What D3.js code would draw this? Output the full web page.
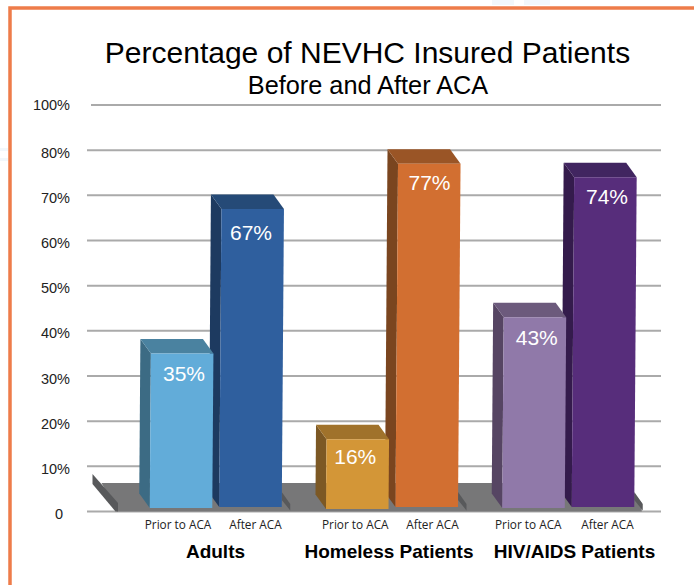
<!DOCTYPE html>
<html>
<head>
<meta charset="utf-8">
<script src="https://cdn.jsdelivr.net/npm/d3@7"></script>
<style>
  html, body { margin: 0; padding: 0; background: #fff; }
  svg { display: block; }
</style>
</head>
<body>
<div id="chart"></div>
<script>
// Data
const groups = ["Adults", "Homeless Patients", "HIV/AIDS Patients"]
const periods = ["Prior to ACA", "After ACA"]
const adults = [35, 67]
const homeless = [16, 77]
const hivAids = [43, 74]
const seriesValues = [adults, homeless, hivAids]

// the axis skips 90%, the top line is labelled 100%
const gridSteps = [0, 10, 20, 30, 40, 50, 60, 70, 80, 90]
const tickLabels = ["0", "10%", "20%", "30%", "40%", "50%", "60%", "70%", "80%", "100%"]

// Colours
const frontColors = [["#62acd9", "#2f5f9e"], ["#d39637", "#d26f31"], ["#9079a9", "#572d7b"]]
const sideColors = [["#3c6b84", "#1d3a60"], ["#7c5824", "#7a451f"], ["#564563", "#341b4c"]]
const topColors = [["#4a82a0", "#254a77"], ["#a0722b", "#9a5526"], ["#6c5a7c", "#412560"]]

const width = 694
const height = 585

const svg = d3.select("#chart")
  .append("svg")
  .attr("width", width)
  .attr("height", height)

// Scales
const y = d3.scaleLinear().domain([0, 90]).range([511.5, 105])
const xGroup = d3.scalePoint().domain(groups).range([215.75, 568.25])
const xPeriod = d3.scaleBand().domain(periods).range([-66, 66]).paddingInner(0.1)
const bw = xPeriod.bandwidth()

// Hand placed tweaks, the original is a pasted picture and nothing lines up exactly
const depth = { x: 10.5, y: 14.5 }
const lean = 0.0074
const baseGap = [[3.5, 4.5], [2.5, 4.5], [3.5, 4.5]]
const valueDx = [[3, 0.5], [-2, 2.75], [3.25, 4]]
const valueDy = [[28, 31.5], [25, 26.5], [27.5, 26.5]]
const periodDx = [[-3, 5], [-2, 5.75], [-5.25, 4.5]]
const groupLabelX = [215.5, 389, 574.5]

// Traces of a watermark behind the frame
const smudges = svg.append("g").attr("fill", "#f2f7fb")
smudges.append("rect").attr("x", 0).attr("y", 148).attr("width", 8).attr("height", 3)
smudges.append("rect").attr("x", 0).attr("y", 158).attr("width", 8).attr("height", 3)
smudges.append("rect").attr("x", 492).attr("y", 0).attr("width", 22).attr("height", 5)
smudges.append("rect").attr("x", 524).attr("y", 0).attr("width", 26).attr("height", 5)

// Frame
svg.append("path")
  .attr("d", `M10 ${height} V8 H${width}`)
  .attr("fill", "none")
  .attr("stroke", "#ee7c4a")
  .attr("stroke-width", 3.5)

// Axis
const yAxis = d3.axisLeft(y)
  .tickValues(gridSteps)
  .tickFormat((d, i) => tickLabels[i])
  .tickSize(0)

const axisG = svg.append("g")
  .attr("transform", "translate(70,0)")
  .call(yAxis)
axisG.select(".domain").remove()
axisG.selectAll("text")
  .attr("x", d => d === 0 ? -7 : 0)
  .attr("y", d => d === 90 ? 0 : 2.5)
  .attr("font-family", "Liberation Sans")
  .attr("font-size", 14.5)
  .attr("fill", "#222")

svg.append("g")
  .selectAll("line")
  .data(gridSteps)
  .join("line")
  .attr("x1", d => d === 90 ? 91 : 87)
  .attr("x2", 661)
  .attr("y1", d => y(d))
  .attr("y2", d => y(d))
  .attr("stroke", "#aaa")
  .attr("stroke-width", 2)

// Floor
const floorTop = y(0) - 28.5
const floorFront = y(0) - 8.5
const floorLeft = 117.5
const floorRight = xGroup(groups[2]) + 66

svg.append("path")
  .attr("fill", "#777778")
  .attr("d", `M${floorLeft - 16} ${floorTop} H${floorRight - 8} L${floorRight + 7.5} ${floorFront} V${y(0)} H${floorLeft} Z`)
svg.append("path")
  .attr("fill", "#58595b")
  .attr("d", `M92.5 ${floorTop - 9} L${floorLeft + 0.5} ${floorFront} V${y(0)} H${floorLeft - 2} L92.5 ${floorTop + 1} Z`)

// Shadow wedges to the right of each group
svg.append("g")
  .selectAll("path")
  .data(groups)
  .join("path")
  .attr("fill", "#58595b")
  .attr("d", d => {
    const r = xGroup(d) + 66
    return `M${r} ${floorFront - 11} L${r + 8.5} ${floorFront + 1} V${y(0) - 1} L${r} ${floorFront - 3} Z`
  })

// Bars
const bars = groups.flatMap((g, i) => periods.map((p, j) => ({
  group: g,
  period: p,
  value: seriesValues[i][j],
  front: frontColors[i][j],
  side: sideColors[i][j],
  top: topColors[i][j],
  gap: baseGap[i][j],
  valueDx: valueDx[i][j],
  valueDy: valueDy[i][j],
  periodDx: periodDx[i][j],
})))

// drawn back to front so the left bar sits over its neighbour's side
const barG = svg.append("g")
  .selectAll("g")
  .data(bars.slice().reverse())
  .join("g")
  .attr("transform", d => `translate(${xGroup(d.group) + xPeriod(d.period)},0)`)

const topY = d => y(d.value)
const baseY = d => y(0) - d.gap
const leanX = d => lean * (baseY(d) - topY(d))

barG.append("path")
  .attr("fill", d => d.side)
  .attr("d", d => {
    const t = topY(d), b = baseY(d), dx = leanX(d)
    return `M${dx} ${t} L${dx - depth.x} ${t - depth.y} L${-depth.x} ${b - depth.y} L0 ${b} Z`
  })
barG.append("path")
  .attr("fill", d => d.top)
  .attr("d", d => {
    const t = topY(d), dx = leanX(d)
    return `M${dx} ${t} L${dx - depth.x} ${t - depth.y} H${dx + bw - depth.x} L${dx + bw} ${t} Z`
  })
barG.append("path")
  .attr("fill", d => d.front)
  .attr("d", d => {
    const t = topY(d), b = baseY(d), dx = leanX(d)
    return `M${dx} ${t} H${dx + bw} L${bw} ${b} H0 Z`
  })

barG.append("text")
  .attr("x", d => bw / 2 + d.valueDx)
  .attr("y", d => topY(d) + d.valueDy)
  .attr("text-anchor", "middle")
  .attr("font-family", "Liberation Sans")
  .attr("font-size", 21)
  .attr("fill", "#fff")
  .text(d => d.value + "%")

barG.append("text")
  .attr("x", d => bw / 2 + d.periodDx)
  .attr("y", 529)
  .attr("text-anchor", "middle")
  .attr("font-family", "Open Sans")
  .attr("font-size", 11.8)
  .attr("fill", "#222")
  .text(d => d.period)

// Group labels
svg.append("g")
  .selectAll("text")
  .data(groups)
  .join("text")
  .attr("x", (d, i) => groupLabelX[i])
  .attr("y", 558)
  .attr("text-anchor", "middle")
  .attr("font-family", "Liberation Sans")
  .attr("font-weight", "bold")
  .attr("font-size", 19)
  .attr("fill", "#000")
  .text(d => d)

// Titles
svg.append("text")
  .attr("x", 367.5)
  .attr("y", 63)
  .attr("text-anchor", "middle")
  .attr("font-family", "Liberation Sans")
  .attr("font-size", 30)
  .text("Percentage of NEVHC Insured Patients")

svg.append("text")
  .attr("x", 368)
  .attr("y", 94)
  .attr("text-anchor", "middle")
  .attr("font-family", "Liberation Sans")
  .attr("font-size", 25.3)
  .text("Before and After ACA")
</script>
</body>
</html>
